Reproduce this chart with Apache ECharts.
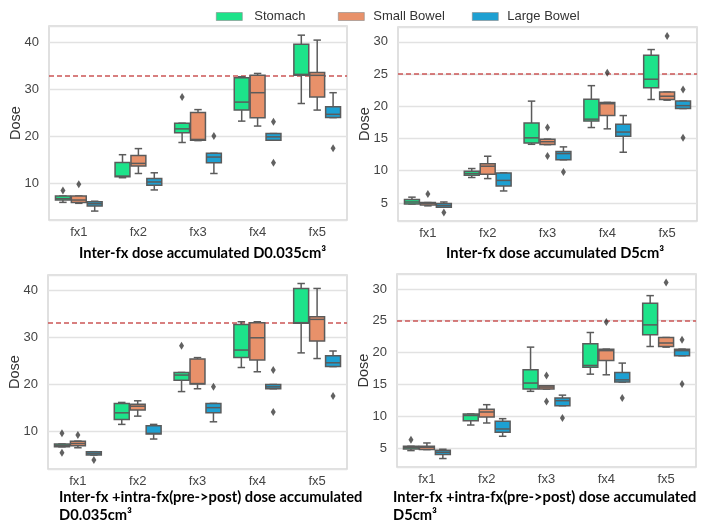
<!DOCTYPE html>
<html>
<head>
<meta charset="utf-8">
<script src="https://cdn.jsdelivr.net/npm/echarts@6/dist/echarts.min.js"></script>
<style>html,body{margin:0;padding:0;background:#fff;}#c{width:706px;height:526px;}</style>
</head>
<body>
<div id="c"></div>
<script>
// ---------- data ----------
const categories = ['fx1', 'fx2', 'fx3', 'fx4', 'fx5'];
const organs = ['Stomach', 'Small Bowel', 'Large Bowel'];
// each box: [min, Q1, median, Q3, max]
// Panel 1: Inter-fx dose accumulated D0.035cm3
const p1Stomach = [[5.95, 6.45, 6.75, 7.3, 7.3], [11.2, 11.4, 11.55, 14.45, 16.1], [18.7, 20.8, 21.6, 22.8, 22.8], [23.25, 25.6, 27.3, 32.5, 32.7], [27.0, 33.0, 33.2, 39.6, 41.55]];
const p1SmallBowel = [[5.75, 5.9, 6.45, 7.3, 7.3], [12.1, 13.7, 14.25, 15.95, 17.4], [19.1, 19.2, 19.35, 25.1, 25.7], [22.2, 23.96, 29.3, 33.0, 33.4], [25.6, 28.4, 33.0, 33.6, 40.5]];
const p1LargeBowel = [[4.1, 5.17, 5.66, 6.1, 6.2], [8.6, 9.6, 10.3, 11.05, 12.25], [12.1, 14.4, 15.6, 16.4, 16.4], [19.2, 19.2, 19.9, 20.6, 20.6], [24.0, 24.0, 24.7, 26.3, 29.3]];
const p1StomachOut = [[0, 8.5], [2, 28.4]];
const p1SmallBowelOut = [[0, 9.8]];
const p1LargeBowelOut = [[2, 20.1], [3, 23.1], [3, 14.4], [4, 17.45]];
// Panel 2: Inter-fx dose accumulated D5cm3
const p2Stomach = [[4.85, 4.85, 5.15, 5.53, 5.9], [8.95, 9.3, 9.56, 9.92, 10.34], [14.1, 14.3, 15.1, 17.4, 20.8], [16.7, 17.7, 18.0, 21.1, 23.2], [21.05, 22.86, 24.2, 27.9, 28.8]];
const p2SmallBowel = [[4.55, 4.7, 4.95, 5.06, 5.06], [8.78, 9.45, 10.7, 11.1, 12.25], [14.05, 14.05, 14.5, 14.9, 14.9], [16.5, 18.56, 20.4, 20.6, 20.6], [20.95, 21.05, 21.56, 22.2, 22.2]];
const p2LargeBowel = [[4.33, 4.33, 4.6, 4.9, 5.15], [6.86, 7.64, 8.5, 9.66, 9.66], [11.7, 11.7, 12.66, 13.0, 13.7], [12.87, 15.35, 16.0, 17.2, 18.56], [19.65, 19.65, 20.1, 20.8, 20.8]];
const p2StomachOut = [];
const p2SmallBowelOut = [[0, 6.4], [2, 16.7], [2, 12.3], [3, 25.2], [4, 30.9]];
const p2LargeBowelOut = [[0, 3.5], [2, 9.8], [4, 22.6], [4, 15.1]];
// Panel 3: Inter-fx + intra-fx(pre->post) dose accumulated D0.035cm3
const p3Stomach = [[6.8, 6.8, 7.1, 7.4, 7.4], [11.55, 12.6, 14.0, 16.0, 16.2], [18.5, 20.9, 22.0, 22.55, 22.55], [23.6, 25.7, 27.3, 32.7, 33.3], [26.7, 33.0, 33.1, 40.35, 41.4]];
const p3SmallBowel = [[6.6, 7.05, 7.5, 8.0, 8.0], [13.3, 14.6, 15.4, 15.8, 16.55], [19.1, 20.1, 20.2, 25.4, 25.7], [22.7, 25.2, 29.9, 33.1, 33.3], [25.5, 29.2, 33.8, 34.35, 40.35]];
const p3LargeBowel = [[5.06, 5.06, 5.4, 5.77, 5.77], [8.45, 9.5, 9.65, 11.27, 11.55], [12.1, 14.0, 15.1, 16.0, 16.0], [19.1, 19.1, 19.5, 20.0, 20.0], [23.8, 23.8, 24.6, 26.1, 27.1]];
const p3StomachOut = [[0, 9.65], [0, 5.55], [2, 28.2]];
const p3SmallBowelOut = [[0, 9.3]];
const p3LargeBowelOut = [[0, 4.0], [2, 19.5], [3, 23.05], [3, 14.2], [4, 17.55]];
// Panel 4: Inter-fx + intra-fx(pre->post) dose accumulated D5cm3
const p4Stomach = [[4.58, 4.84, 5.05, 5.26, 5.26], [8.6, 9.29, 10.1, 10.33, 10.33], [13.9, 14.26, 15.2, 17.3, 20.85], [16.6, 17.7, 17.97, 21.37, 23.15], [20.95, 22.8, 24.35, 27.75, 28.95]];
const p4SmallBowel = [[4.74, 4.74, 5.1, 5.26, 5.78], [8.92, 9.86, 10.65, 11.1, 11.8], [14.26, 14.26, 14.57, 14.78, 14.78], [16.5, 18.75, 20.3, 20.53, 20.53], [20.85, 20.95, 21.5, 22.36, 22.36]];
const p4LargeBowel = [[3.33, 3.95, 4.32, 4.63, 4.79], [6.83, 7.46, 7.98, 9.18, 9.6], [11.64, 11.64, 12.43, 12.85, 13.3], [15.36, 15.36, 15.7, 16.87, 18.34], [19.5, 19.5, 20.3, 20.53, 20.53]];
const p4StomachOut = [[0, 6.3]];
const p4SmallBowelOut = [[2, 16.4], [2, 12.3], [3, 24.8], [4, 31.0]];
const p4LargeBowelOut = [[2, 9.7], [3, 12.85], [4, 22.0], [4, 15.04]];
// reference (limit) lines
const limitValues = [33, 25, 33, 25];
const yTickStep = [10, 5, 10, 5];
const titles = [
  ['Inter-fx dose accumulated D0.035cm³'],
  ['Inter-fx dose accumulated D5cm³'],
  ['Inter-fx +intra-fx(pre->post) dose accumulated', 'D0.035cm³'],
  ['Inter-fx +intra-fx(pre->post) dose accumulated', 'D5cm³']
];

// ---------- styling / layout ----------
const FONT = 'Liberation Sans';
const colors = ['#1de38a', '#e8916a', '#1ea0d2'];
const EDGE = '#5b5b5b';
const GROUP = 0.8;               // seaborn group width
const BOX_W = GROUP / 3;
const offsets = [-BOX_W, 0, BOX_W];
const grids = [
  {left: 49, top: 26, width: 298, height: 194},
  {left: 398, top: 27, width: 299, height: 194},
  {left: 48, top: 275, width: 299, height: 194},
  {left: 397, top: 274, width: 299, height: 193}
];
const yRanges = [[2.2, 43.5], [2.2, 32.3], [2.1, 43.2], [2.0, 32.35]];
const titlePos = [
  {x: 79, y: 255}, {x: 446, y: 255}, {x: 59, y: 499}, {x: 393, y: 499}
];
const legendLeft = [211, 333, 467];
const legendTextPad = [7, 4, 4];

const panels = [
  [p1Stomach, p1SmallBowel, p1LargeBowel, p1StomachOut, p1SmallBowelOut, p1LargeBowelOut],
  [p2Stomach, p2SmallBowel, p2LargeBowel, p2StomachOut, p2SmallBowelOut, p2LargeBowelOut],
  [p3Stomach, p3SmallBowel, p3LargeBowel, p3StomachOut, p3SmallBowelOut, p3LargeBowelOut],
  [p4Stomach, p4SmallBowel, p4LargeBowel, p4StomachOut, p4SmallBowelOut, p4LargeBowelOut]
];

function boxRender(offset, color) {
  return function (params, api) {
    const x = api.value(0) + offset;
    const lo = api.coord([x, api.value(1)]);
    const q1 = api.coord([x, api.value(2)]);
    const md = api.coord([x, api.value(3)]);
    const q3 = api.coord([x, api.value(4)]);
    const hi = api.coord([x, api.value(5)]);
    const w = api.size([BOX_W, 0])[0] - 1;
    const cx = lo[0];
    const line = (x1, y1, x2, y2) => ({type: 'line', shape: {x1, y1, x2, y2}, style: {stroke: EDGE, lineWidth: 1.5}});
    return {type: 'group', children: [
      line(cx, hi[1], cx, q3[1]),
      line(cx, q1[1], cx, lo[1]),
      line(cx - w / 4, hi[1], cx + w / 4, hi[1]),
      line(cx - w / 4, lo[1], cx + w / 4, lo[1]),
      {type: 'rect', shape: {x: cx - w / 2, y: q3[1], width: w, height: q1[1] - q3[1]},
        style: {fill: color, stroke: EDGE, lineWidth: 1.5}},
      line(cx - w / 2, md[1], cx + w / 2, md[1])
    ]};
  };
}

const option = {
  animation: false,
  backgroundColor: '#fff',
  textStyle: {fontFamily: FONT},
  legend: organs.map((n, i) => ({
    left: legendLeft[i], top: 5, itemWidth: 26, itemHeight: 8,
    selectedMode: false, icon: 'rect',
    data: [{name: n, itemStyle: {color: colors[i], borderColor: '#8a8a8a', borderWidth: 0.6}}],
    textStyle: {fontSize: 13, color: '#333', fontFamily: FONT, padding: [0, 0, 0, legendTextPad[i]]}
  })),
  grid: grids.map(g => Object.assign({show: true, borderColor: '#d6d6d6', borderWidth: 1.5, containLabel: false}, g)),
  xAxis: [],
  yAxis: [],
  series: [],
  graphic: []
};

panels.forEach((pd, p) => {
  option.xAxis.push({
    type: 'category', gridIndex: p, data: categories, boundaryGap: true,
    axisLine: {show: false}, axisTick: {show: false}, splitLine: {show: false},
    axisLabel: {color: '#444', fontSize: 13, margin: 6, fontFamily: FONT}
  });
  option.xAxis.push({type: 'value', gridIndex: p, min: -0.5, max: 4.5, show: false});
  const step = yTickStep[p];
  const r = yRanges[p];
  option.yAxis.push({
    type: 'value', gridIndex: p, min: r[0], max: r[1],
    splitNumber: Math.round((r[1] - r[0]) / step),
    name: 'Dose', nameLocation: 'middle', nameGap: 26, nameMoveOverlap: false,
    nameTextStyle: {fontSize: 14.5, color: '#333', fontFamily: FONT},
    axisLine: {show: false}, axisTick: {show: false},
    axisLabel: {color: '#444', fontSize: 13, margin: 10, fontFamily: FONT,
      formatter: v => (Math.abs(v / step - Math.round(v / step)) < 1e-6 ? String(Math.round(v)) : '')},
    splitLine: {lineStyle: {color: '#e2e2e2', width: 1.3}}
  });
  for (let k = 0; k < 3; k++) {
    option.series.push({
      type: 'custom', name: organs[k], xAxisIndex: 2 * p + 1, yAxisIndex: p,
      itemStyle: {color: colors[k]},
      renderItem: boxRender(offsets[k], colors[k]),
      encode: {x: 0, y: [1, 2, 3, 4, 5]},
      data: pd[k].map((b, i) => [i].concat(b)),
      z: 3
    });
  }
  for (let k = 0; k < 3; k++) {
    const s = {
      type: 'scatter', name: organs[k] + ' outliers', xAxisIndex: 2 * p + 1, yAxisIndex: p,
      symbol: 'diamond', symbolSize: [5, 8],
      itemStyle: {color: '#3a3a3a'},
      data: pd[3 + k].map(o => [o[0] + offsets[k], o[1]]),
      z: 4
    };
    if (k === 0) {
      s.markLine = {
        silent: true, symbol: 'none', label: {show: false},
        lineStyle: {color: '#cc5555', type: [5, 3], width: 1.5},
        data: [{yAxis: limitValues[p]}], z: 2
      };
    }
    option.series.push(s);
  }
  titles[p].forEach((t, li) => {
    option.graphic.push({
      type: 'text', left: titlePos[p].x, top: titlePos[p].y - 9 + li * 18,
      style: {text: t, font: 'bold 14.7px Lato', fill: '#000'}
    });
  });
});

const chart = echarts.init(document.getElementById('c'), null, {renderer: 'canvas'});
chart.setOption(option);
</script>
</body>
</html>
